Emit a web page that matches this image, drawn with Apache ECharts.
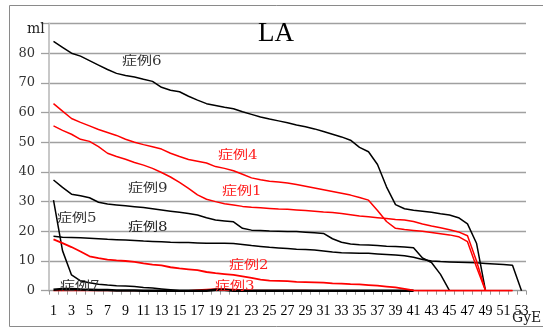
<!DOCTYPE html>
<html><head><meta charset="utf-8">
<script src="https://cdn.jsdelivr.net/npm/echarts@6/dist/echarts.min.js"></script>
<style>html,body{margin:0;padding:0;background:#fff}#c{width:543px;height:329px}</style>
</head><body><div id="c"></div>
<script>
const categories = ['1','2','3','4','5','6','7','8','9','10','11','12','13','14','15','16','17','18','19','20','21','22','23','24','25','26','27','28','29','30','31','32','33','34','35','36','37','38','39','40','41','42','43','44','45','46','47','48','49','50','51','52','53'];
const yMin = 0, yMax = 90, yStep = 10;
const titleText = 'LA';
const yUnit = 'ml';
const xUnit = 'GyE';

const case1 = [55.5,54,52.7,51,50.3,48.5,46.3,45.2,44.3,43.2, 42.3,41.2,39.8,38.3,36.5,34.5,32.3,30.8,30,29.3, 28.9,28.4,28.1,27.9,27.7,27.5,27.4,27.2,27,26.8, 26.5,26.3,26,25.6,25.2,24.9,24.6,24.3,24,23.8, 23.3,22.5,21.8,21.2,20.5,19.8,18.5,10,0,null, null,null,null];
const case2 = [17.3,16,14.7,13.2,11.6,11,10.5,10.2,10,9.7, 9.2,8.8,8.5,7.9,7.5,7.2,6.9,6.3,5.9,5.6, 5.3,4.8,4.3,3.7,3.4,3.3,3.2,3,2.9,2.8, 2.7,2.5,2.4,2.2,2.1,1.9,1.7,1.4,1.1,0.6, 0.1,0,0,0,0,0,0,0,0,0, 0,0,null];
const case3 = [0,0,0,0,0,0,0,0,0,0, 0,0,0,0,0,0,0.2,0.4,0.6,0.6, 0.4,0.2,0.1,0.1,0.1,0.1,0.1,0.1,0.1,0, 0,0,0,0,0,0,0,0,0,0, 0,0,0,0,0,0,0,0,0,0, 0,0,null];
const case4 = [63,60.5,58,56.7,55.5,54.3,53.3,52.3,51,50, 49.2,48.5,47.7,46.3,45.2,44.2,43.6,43,41.8,41.2, 40.4,39.2,38,37.4,36.9,36.6,36.3,35.8,35.2,34.6, 34,33.4,32.8,32.2,31.4,30.5,27,23.3,21,20.6, 20.3,20,19.6,19.2,18.8,18.2,16.5,8,0,null, null,null,null];
const case5 = [30.5,13.5,5.3,3.3,2.7,2.2,1.9,1.7,1.6,1.4, 1.1,0.9,0.6,0.3,0,0,0,0,0,0, 0,0,0,0,0,0,0,0,0,0, 0,0,0,0,0,0,0,0,0,0, 0,null,null,null,null,null,null,null,null,null, null,null,null];
const case6 = [84,82,80,79,77.5,76,74.5,73.2,72.5,72, 71.2,70.5,68.5,67.5,67,65.5,64.2,63,62.4,61.8, 61.3,60.3,59.4,58.5,57.8,57.2,56.6,55.8,55.2,54.5, 53.6,52.7,51.8,50.7,48.3,46.8,42.5,35,29,27.6, 27.1,26.8,26.4,25.9,25.5,24.6,22.5,16,0,null, null,null,null];
const case7 = [0.3,0.6,0.6,0.4,0.3,0.2,0.2,0.1,0.1,0.1, 0,0,0,0,0,0,0,0,0.3,0.3, 0,0,0,0,0,0,0,0,0,0, 0,0,0,0,0,0,0,0,0,0, 0,null,null,null,null,null,null,null,null,null, null,null,null];
const case8 = [18.3,18,17.9,17.8,17.7,17.5,17.3,17.2,17.1,16.9, 16.7,16.6,16.5,16.3,16.2,16.2,16.1,16,16,16, 15.9,15.6,15.2,14.9,14.6,14.4,14.2,14,13.9,13.7, 13.4,13,12.8,12.7,12.6,12.6,12.4,12.2,12,11.8, 11.3,10.5,10,9.8,9.7,9.6,9.5,9.4,9.2,9, 8.8,8.6,0];
const case9 = [37.3,34.8,32.5,32,31.3,29.8,29.2,28.9,28.6,28.3, 28,27.6,27.2,26.8,26.4,26,25.5,24.6,23.8,23.5, 23.2,21,20.4,20.3,20.1,20,19.9,19.9,19.7,19.5, 19.3,17.5,16.3,15.7,15.5,15.4,15.2,15,14.9,14.7, 14.5,11,9.5,5.5,0,null,null,null,null,null, null,null,null];

const caseNames = ['症例1','症例2','症例3','症例4','症例5','症例6','症例7','症例8','症例9'];

const RED = '#ff0000', BLACK = '#000000';
function line(name, data, color, width) {
  return { name, type: 'line', data, showSymbol: false, symbol: 'none', smooth: false,
    connectNulls: false, lineStyle: { color, width: width || 1.5 }, itemStyle: { color }, silent: true };
}

// name label placement (pixels) and colors
const nameLabels = [
  { text: caseNames[5], x: 122, y: 62, c: '#333' },
  { text: caseNames[3], x: 218, y: 156, c: '#ff2020' },
  { text: caseNames[8], x: 128, y: 189, c: '#333' },
  { text: caseNames[0], x: 222, y: 192, c: '#ff2020' },
  { text: caseNames[4], x: 57, y: 219, c: '#333' },
  { text: caseNames[7], x: 128, y: 228, c: '#222' },
  { text: caseNames[1], x: 229, y: 266, c: '#ff2020' },
  { text: caseNames[2], x: 215, y: 287, c: '#ff2020' },
  { text: caseNames[6], x: 60, y: 287, c: '#333' }
];

const chart = echarts.init(document.getElementById('c'), null, { renderer: 'canvas' });
const graphics = [
  { type: 'rect', shape: { x: 9.5, y: 5.5, width: 540, height: 321 }, style: { fill: 'none', stroke: '#8a8a8a', lineWidth: 1 }, z: 0 },
  { type: 'text', x: 258, y: 34, style: { text: titleText, font: '27px "Liberation Serif"', fill: '#000', textVerticalAlign: 'middle' }, z: 10 },
  { type: 'text', x: 27, y: 29, style: { text: yUnit, font: '14px "DejaVu Serif"', fill: '#222', textVerticalAlign: 'middle' }, z: 10 },
  { type: 'text', x: 512, y: 318, style: { text: xUnit, font: '14px "DejaVu Serif"', fill: '#222', textVerticalAlign: 'middle' }, z: 10 }
];
nameLabels.forEach(l => graphics.push({
  type: 'text', x: l.x, y: l.y, scaleX: 1.2, z: 10,
  style: { text: l.text, font: '12.5px "DejaVu Serif", "Noto Sans CJK JP"', fill: l.c, textVerticalAlign: 'middle' }
}));

chart.setOption({
  animation: false,
  backgroundColor: '#fff',
  grid: { left: 49, right: 17, top: 23.5, bottom: 38.3, containLabel: false },
  xAxis: {
    type: 'category', data: categories, boundaryGap: true,
    axisLine: { show: true, lineStyle: { color: '#999', width: 1 } },
    axisTick: { show: true, interval: 0, length: 4, lineStyle: { color: '#999' } },
    axisLabel: { interval: 1, margin: 14, color: '#000', fontFamily: 'Liberation Serif', fontSize: 14,
      formatter: v => v },
    splitLine: { show: false }
  },
  yAxis: {
    type: 'value', min: yMin, max: yMax, interval: yStep,
    axisLine: { show: true, lineStyle: { color: '#c8c8c8', width: 2 } },
    axisTick: { show: true, length: 8, lineStyle: { color: '#a0a0a0', width: 1.3 } },
    axisLabel: { margin: 14, color: '#333', fontFamily: 'DejaVu Serif', fontSize: 13,
      formatter: v => (v >= yMax ? '' : String(v)) },
    splitLine: { show: true, lineStyle: { color: '#a0a0a0', width: 1.3 } }
  },
  series: [
    line(caseNames[2], case3, RED),
    line(caseNames[4], case5, BLACK),
    line(caseNames[5], case6, BLACK),
    line(caseNames[6], case7, BLACK, 2.5),
    line(caseNames[7], case8, BLACK),
    line(caseNames[8], case9, BLACK),
    line(caseNames[0], case1, RED),
    line(caseNames[1], case2, RED, 1.8),
    line(caseNames[3], case4, RED)
  ],
  graphic: graphics
});
</script></body></html>
